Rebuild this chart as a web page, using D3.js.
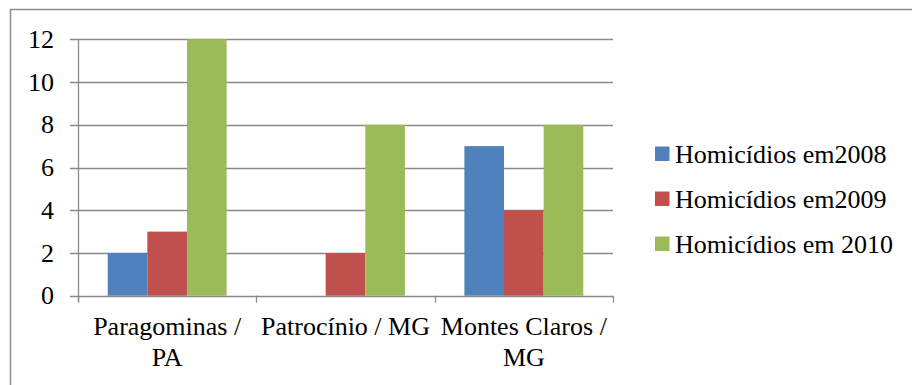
<!DOCTYPE html>
<html>
<head>
<meta charset="utf-8">
<script src="https://cdn.jsdelivr.net/npm/d3@7"></script>
</head>
<body style="margin:0">
<svg id="chart" width="912" height="385"></svg>
<script>
// Homicides per municipality, 2008-2010
const categories = ["Paragominas /\nPA", "Patrocínio / MG", "Montes Claros /\nMG"];
const seriesNames = ["Homicídios em2008", "Homicídios em2009", "Homicídios em 2010"];
const values2008 = [2, 0, 7];
const values2009 = [3, 2, 4];
const values2010 = [12, 8, 8];
const yTicks = [0, 2, 4, 6, 8, 10, 12];
const colors = ["#4F81BD", "#C0504D", "#9BBB59"];

const series = [values2008, values2009, values2010];
const FONT_SIZE = 26;

const svg = d3.select("#chart");
const W = 912, H = 385;

// outer frame
svg.append("rect")
  .attr("x", 10.5).attr("y", 9.5)
  .attr("width", W + 10).attr("height", H + 10)
  .attr("fill", "none").attr("stroke", "#8c8c8c").attr("stroke-width", 1.5);

const plot = { left: 78, right: 613, top: 39.3, bottom: 295.7 };

const x0 = d3.scaleBand()
  .domain(d3.range(categories.length))
  .range([plot.left, plot.right])
  .paddingInner(0).paddingOuter(0);

const bw = x0.bandwidth() / 4.5;
const x1 = d3.scaleBand()
  .domain(d3.range(series.length))
  .range([0.75 * bw, x0.bandwidth() - 0.75 * bw])
  .padding(0);

const y = d3.scaleLinear().domain([0, 12]).range([plot.bottom, plot.top]);

// gridlines
svg.selectAll("line.grid").data(yTicks).join("line")
  .attr("class", "grid")
  .attr("x1", plot.left - 8).attr("x2", plot.right)
  .attr("y1", d => Math.round(y(d)) + 0.5).attr("y2", d => Math.round(y(d)) + 0.5)
  .attr("stroke", "#8a8a8a").attr("stroke-width", 1.3);

// bars
const barData = [];
categories.forEach((c, i) => series.forEach((s, k) => barData.push({ i, k, v: s[i] })));
svg.selectAll("rect.bar").data(barData).join("rect")
  .attr("class", "bar")
  .attr("x", d => x0(d.i) + x1(d.k))
  .attr("width", x1.bandwidth())
  .attr("y", d => y(d.v))
  .attr("height", d => y(0) - y(d.v))
  .attr("fill", d => colors[d.k]);

// y axis line
svg.append("line")
  .attr("x1", plot.left + 0.5).attr("x2", plot.left + 0.5)
  .attr("y1", plot.top).attr("y2", plot.bottom + 6)
  .attr("stroke", "#8a8a8a").attr("stroke-width", 1.3);

// x axis ticks at category boundaries
const bounds = d3.range(categories.length + 1).map(i => plot.left + i * x0.bandwidth());
svg.selectAll("line.xtick").data(bounds).join("line")
  .attr("class", "xtick")
  .attr("x1", d => Math.round(d) + 0.5).attr("x2", d => Math.round(d) + 0.5)
  .attr("y1", plot.bottom).attr("y2", plot.bottom + 7)
  .attr("stroke", "#8a8a8a").attr("stroke-width", 1.3);

// y tick labels
svg.selectAll("text.ytick").data(yTicks).join("text")
  .attr("class", "ytick")
  .attr("x", 54).attr("y", d => y(d) + 8.6)
  .attr("text-anchor", "end")
  .attr("font-size", FONT_SIZE)
  .style("font-family", d => "'Liberation Serif'")
  .text(d => d);

// category labels, one text per line
const catLines = [];
categories.forEach((c, i) => c.split("\n").forEach((t, j) => catLines.push({ i, j, t })));
svg.selectAll("text.cat").data(catLines).join("text")
  .attr("class", "cat")
  .attr("x", d => x0(d.i) + x0.bandwidth() / 2)
  .attr("y", d => 335 + d.j * 30.5)
  .attr("text-anchor", "middle")
  .attr("font-size", FONT_SIZE)
  .style("font-family", d => "'Liberation Serif'")
  .text(d => d.t);

// legend swatches and labels
svg.selectAll("rect.swatch").data(seriesNames).join("rect")
  .attr("class", "swatch")
  .attr("x", 655).attr("y", (d, i) => 146.5 + i * 45)
  .attr("width", 14.5).attr("height", 14.5)
  .attr("fill", (d, i) => colors[i]);
svg.selectAll("text.legend").data(seriesNames).join("text")
  .attr("class", "legend")
  .attr("x", 675).attr("y", (d, i) => 163 + i * 45)
  .attr("font-size", FONT_SIZE)
  .style("font-family", d => "'Liberation Serif'")
  .text(d => d);
</script>
</body>
</html>
